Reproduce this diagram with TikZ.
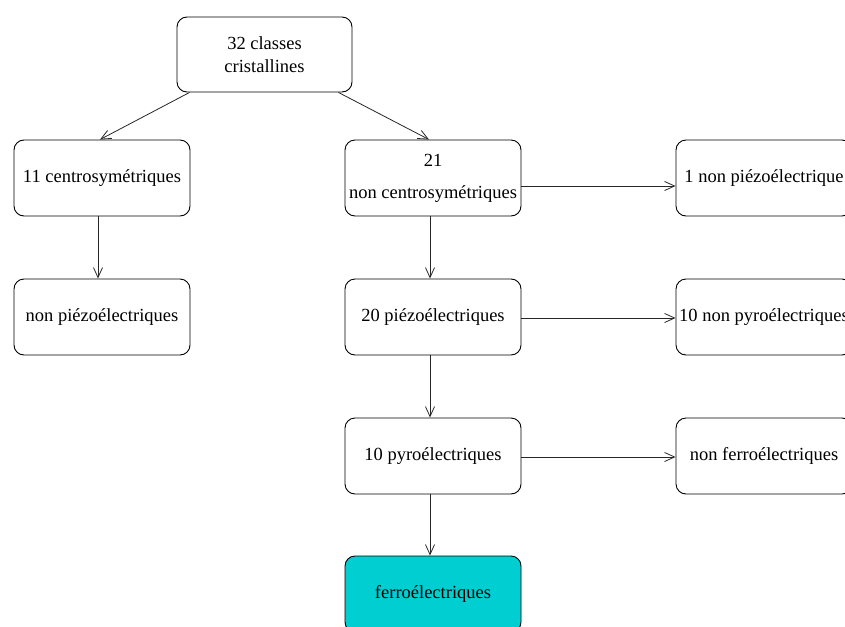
\documentclass[tikz,border=0pt]{standalone}
\usepackage{fontspec}
\setmainfont{Liberation Serif}
\usetikzlibrary{arrows.meta}

\definecolor{ferrocyan}{RGB}{0,206,209}
\tikzset{
    classbox/.style={draw=black, rounded corners=10pt, minimum width=176pt, minimum height=76pt, line width=0.9pt, inner sep=2pt, align=center, font=\fontsize{18.5}{23}\selectfont},
    link/.style={-{Straight Barb[length=10pt, width=9pt, line width=0.8pt]}, line width=0.8pt, draw=black!85}
}

\begin{document}
\begin{tikzpicture}[x=1pt, y=-1pt]
    \useasboundingbox (0,0) rectangle (845,626);

    \node[classbox, minimum width=175pt, minimum height=75pt] (classes) at (264.5, 54.5) {32 classes\\cristallines};

    \node[classbox] (centro) at (102, 178) {11 centrosymétriques};
    \node[classbox] (noncentro) at (433, 178) {21\\[9pt]non centrosymétriques};
    \node[classbox] (nonpiezoun) at (764, 178) {1 non piézoélectrique};

    \node[classbox] (nonpiezo) at (102, 317) {non piézoélectriques};
    \node[classbox] (piezo) at (433, 317) {20 piézoélectriques};
    \node[classbox] (nonpyro) at (764, 317) {10 non pyroélectriques};

    \node[classbox] (pyro) at (433, 456) {10 pyroélectriques};
    \node[classbox] (nonferro) at (764, 456) {non ferroélectriques};

    \node[classbox, fill=ferrocyan] (ferro) at (433, 594) {ferroélectriques};

    \draw[link] ([xshift=13pt]classes.south west) -- ([xshift=-2pt]centro.north);
    \draw[link] ([xshift=-14pt]classes.south east) -- ([xshift=-4pt]noncentro.north);
    \draw[link] ([xshift=-4pt]centro.south) -- ([xshift=-4pt]nonpiezo.north);
    \draw[link] ([xshift=-3pt]noncentro.south) -- ([xshift=-3pt]piezo.north);
    \draw[link] ([xshift=-3pt]piezo.south) -- ([xshift=-3pt]pyro.north);
    \draw[link] ([xshift=-3pt]pyro.south) -- ([xshift=-3pt]ferro.north);
    \draw[link] ([yshift=-8pt]noncentro.east) -- ([yshift=-8pt]nonpiezoun.west);
    \draw[link] ([yshift=-1pt]piezo.east) -- ([yshift=-1pt]nonpyro.west);
    \draw[link] ([yshift=-1pt]pyro.east) -- ([yshift=-1pt]nonferro.west);

\end{tikzpicture}
\end{document}
